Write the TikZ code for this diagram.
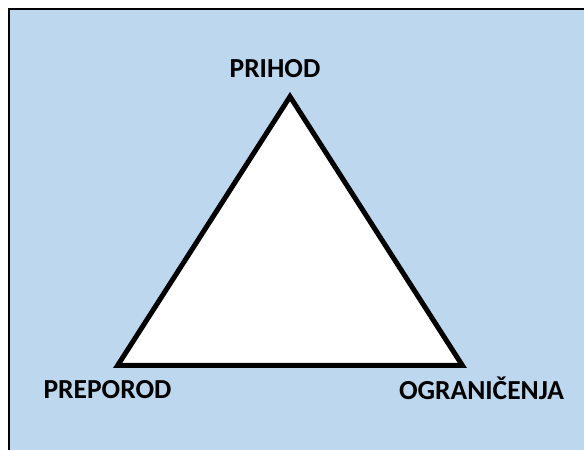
\documentclass[tikz,border=0pt]{standalone}
\usepackage{fontspec}
\setmainfont{Carlito}
\definecolor{panelblue}{HTML}{BDD7EE}
\begin{document}
\begin{tikzpicture}[x=1pt,y=1pt,
  label/.style={font=\bfseries\fontsize{27.5}{32}\selectfont, inner sep=0pt, anchor=base},
  tri/.style={draw=black, fill=white, line width=5pt, line join=miter}]
  \useasboundingbox (0,0) rectangle (584,450);
  % panel
  \fill[panelblue] (9,-10) rectangle (600,441);
  \draw[black, line width=2pt] (9,-10) -- (9,441) -- (600,441);
  % triangle corners
  \coordinate (top) at (290,353.4);
  \coordinate (bl) at (117.6,84.5);
  \coordinate (br) at (462.4,84.5);
  \draw[tri] (top) -- (bl) -- (br) -- cycle;
  % corner labels
  \node[label] (prihod) at (275,372.5) {PRIHOD};
  \node[label] (preporod) at (107.5,51) {PREPOROD};
  \node[label] (ogranicenja) at (481.5,50) {OGRANIČENJA};
\end{tikzpicture}
\end{document}
